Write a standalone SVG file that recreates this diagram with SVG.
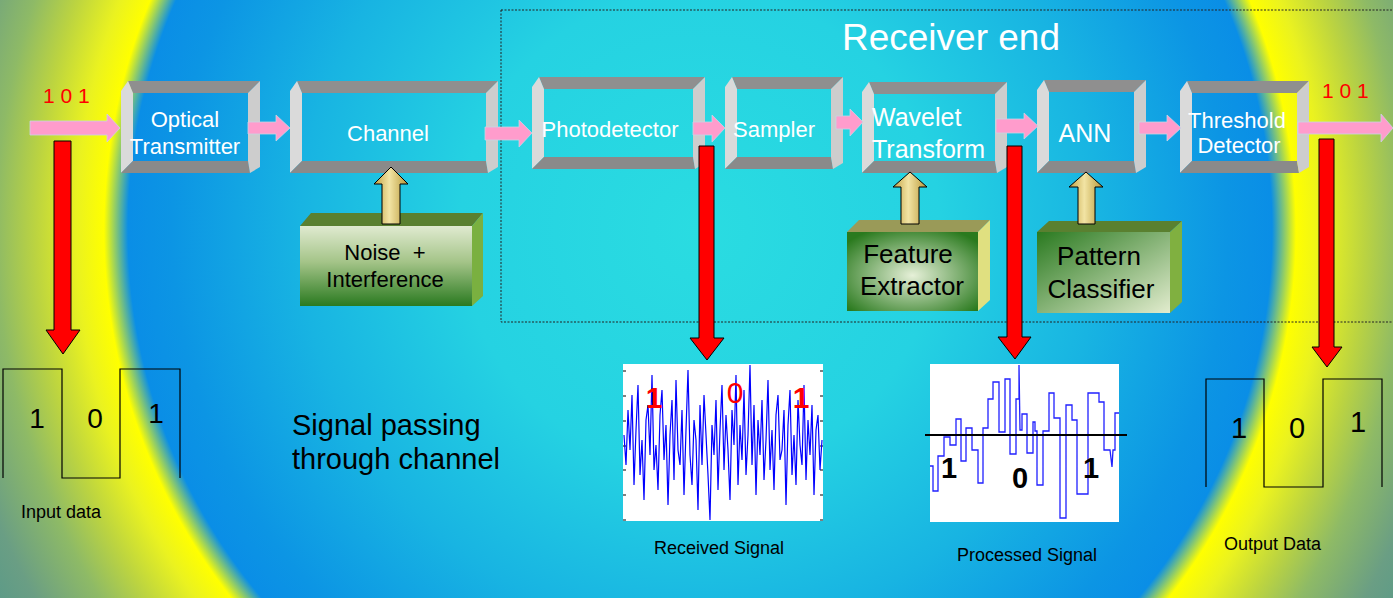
<svg xmlns="http://www.w3.org/2000/svg" width="1393" height="598" viewBox="0 0 1393 598">
<defs>
<radialGradient id="bg" gradientUnits="userSpaceOnUse" cx="700" cy="230" r="800">
<stop offset="0" stop-color="#2adce1"/>
<stop offset="0.3" stop-color="#25d2e2"/>
<stop offset="0.5" stop-color="#18b4e2"/>
<stop offset="0.66" stop-color="#0c95e4"/>
<stop offset="0.715" stop-color="#0a8ee6"/>
<stop offset="0.745" stop-color="#ffff00"/>
<stop offset="0.78" stop-color="#eaf220"/>
<stop offset="0.83" stop-color="#bcd440"/>
<stop offset="0.88" stop-color="#8eba66"/>
<stop offset="0.95" stop-color="#6a9e84"/>
<stop offset="1" stop-color="#5a9a88"/>
</radialGradient>
<linearGradient id="gold" x1="0" y1="0" x2="1" y2="0">
<stop offset="0" stop-color="#c0a040"/>
<stop offset="0.45" stop-color="#f2e4a4"/>
<stop offset="1" stop-color="#b89838"/>
</linearGradient>
<linearGradient id="gNoise" x1="0" y1="0" x2="0" y2="1">
<stop offset="0" stop-color="#e0ead0"/>
<stop offset="0.45" stop-color="#a4c488"/>
<stop offset="1" stop-color="#2a7a20"/>
</linearGradient>
<radialGradient id="gFeat" cx="0.5" cy="0.55" r="0.65">
<stop offset="0" stop-color="#e6f0d8"/>
<stop offset="1" stop-color="#2a7a1e"/>
</radialGradient>
<linearGradient id="gPat" x1="0" y1="0" x2="1" y2="1">
<stop offset="0" stop-color="#2a7a20"/>
<stop offset="1" stop-color="#e2ecce"/>
</linearGradient>
<clipPath id="clipR"><rect x="623" y="364" width="200" height="157"/></clipPath>
</defs>
<style>
.ft{fill:#8f8f8f}
.fb{fill:#8a8a8a}
.fl{fill:#dadada}
.fr{fill:#cdcdcd}
.wt{font-family:"Liberation Sans",Arial,sans-serif;fill:#ffffff}
.bt{font-family:"Liberation Sans",Arial,sans-serif;fill:#000000}
.rt{font-family:"Liberation Sans",Arial,sans-serif;fill:#ff0000}
.pink{fill:#ff9ccc;stroke:#c8d4e4;stroke-width:0.8}
.red{fill:#ff0000;stroke:#000000;stroke-width:1}
.gold{fill:url(#gold);stroke:#000000;stroke-width:1}
.wave{fill:none;stroke:#000000;stroke-width:1.2}
</style>
<rect x="0" y="0" width="1393" height="598" fill="url(#bg)"/>
<rect x="501" y="10" width="900" height="312" fill="none" stroke="#222" stroke-width="1" stroke-dasharray="2 1.5"/>
<text class="wt" x="951" y="50" font-size="37" text-anchor="middle">Receiver end</text>

<g id="optical-transmitter">
<polygon class="ft" points="128,81 260,81 248,93 133,93"/>
<polygon class="fl" points="121,91 128,81 133,93 133,161 121,173"/>
<polygon class="fb" points="121,173 133,161 248,161 250,173"/>
<polygon class="fr" points="260,81 260,167 250,173 248,161 248,93"/>
<text class="wt" font-size="22" text-anchor="middle"><tspan x="185" y="127">Optical</tspan><tspan x="185" y="154">Transmitter</tspan></text>
</g>
<g id="channel">
<polygon class="ft" points="297,81 498,81 486,93 302,93"/>
<polygon class="fl" points="290,91 297,81 302,93 302,161 290,173"/>
<polygon class="fb" points="290,173 302,161 486,161 488,173"/>
<polygon class="fr" points="498,81 498,167 488,173 486,161 486,93"/>
<text class="wt" x="388" y="141" font-size="22" text-anchor="middle">Channel</text>
</g>
<g id="photodetector">
<polygon class="ft" points="539,77 705,77 693,89 544,89"/>
<polygon class="fl" points="532,87 539,77 544,89 544,157 532,169"/>
<polygon class="fb" points="532,169 544,157 693,157 695,169"/>
<polygon class="fr" points="705,77 705,163 695,169 693,157 693,89"/>
<text class="wt" x="610" y="137" font-size="22" text-anchor="middle">Photodetector</text>
</g>
<g id="sampler">
<polygon class="ft" points="732,77 843,77 831,89 737,89"/>
<polygon class="fl" points="725,87 732,77 737,89 737,157 725,169"/>
<polygon class="fb" points="725,169 737,157 831,157 833,169"/>
<polygon class="fr" points="843,77 843,163 833,169 831,157 831,89"/>
<text class="wt" x="774" y="137" font-size="22" text-anchor="middle">Sampler</text>
</g>
<g id="wavelet-transform">
<polygon class="ft" points="869,82 1007,82 995,94 874,94"/>
<polygon class="fl" points="862,92 869,82 874,94 874,161 862,173"/>
<polygon class="fb" points="862,173 874,161 995,161 997,173"/>
<polygon class="fr" points="1007,82 1007,167 997,173 995,161 995,94"/>
<text class="wt" font-size="25"><tspan x="872" y="126">Wavelet</tspan><tspan x="872" y="158">Transform</tspan></text>
</g>
<g id="ann">
<polygon class="ft" points="1044,80 1146,80 1134,92 1049,92"/>
<polygon class="fl" points="1037,90 1044,80 1049,92 1049,161 1037,173"/>
<polygon class="fb" points="1037,173 1049,161 1134,161 1136,173"/>
<polygon class="fr" points="1146,80 1146,167 1136,173 1134,161 1134,92"/>
<text class="wt" x="1085" y="142" font-size="25" text-anchor="middle">ANN</text>
</g>
<g id="threshold-detector">
<polygon class="ft" points="1187,81 1309,81 1297,93 1192,93"/>
<polygon class="fl" points="1180,91 1187,81 1192,93 1192,161 1180,173"/>
<polygon class="fb" points="1180,173 1192,161 1297,161 1299,173"/>
<polygon class="fr" points="1309,81 1309,167 1299,173 1297,161 1297,93"/>
<text class="wt" font-size="22" text-anchor="middle"><tspan x="1237" y="128">Threshold</tspan><tspan x="1239" y="153">Detector</tspan></text>
</g>

<g id="noise-interference">
<polygon fill="#5a8030" points="300,226 311,213 483,213 472,226"/>
<polygon fill="#7ab040" points="472,226 483,213 483,296 472,306"/>
<rect x="300" y="226" width="172" height="80" fill="url(#gNoise)"/>
<text class="bt" font-size="22" text-anchor="middle"><tspan x="385" y="260">Noise&#160; +</tspan><tspan x="385" y="287">Interference</tspan></text>
</g>
<g id="feature-extractor">
<polygon fill="#9a9a58" points="847,232 859,220 990,220 978,232"/>
<polygon fill="#e0e080" points="978,232 990,220 990,300 978,311"/>
<rect x="847" y="232" width="131" height="79" fill="url(#gFeat)"/>
<text class="bt" font-size="26" text-anchor="middle"><tspan x="908" y="263">Feature</tspan><tspan x="912" y="295">Extractor</tspan></text>
</g>
<g id="pattern-classifier">
<polygon fill="#5a8030" points="1037,232 1049,221 1182,221 1170,232"/>
<polygon fill="#80b040" points="1170,232 1182,221 1182,302 1170,313"/>
<rect x="1037" y="232" width="133" height="81" fill="url(#gPat)"/>
<text class="bt" font-size="26" text-anchor="middle"><tspan x="1099" y="265">Pattern</tspan><tspan x="1101" y="298">Classifier</tspan></text>
</g>

<g id="input-data">
<text class="rt" x="43" y="103" font-size="21">1 0 1</text>
<polyline class="wave" points="3,478 3,369 62,369 62,478 120,478 120,369 180,369 180,478"/>
<text class="bt" font-size="28" text-anchor="middle"><tspan x="37" y="428">1</tspan><tspan x="95" y="428">0</tspan><tspan x="156" y="423">1</tspan></text>
<text class="bt" x="21" y="518" font-size="18">Input data</text>
</g>
<g id="output-data">
<text class="rt" x="1322" y="98" font-size="21">1 0 1</text>
<polyline class="wave" points="1206,487 1206,379 1264,379 1264,487 1323,487 1323,379 1382,379 1382,487"/>
<text class="bt" font-size="29" text-anchor="middle"><tspan x="1239" y="438">1</tspan><tspan x="1297" y="438">0</tspan><tspan x="1358" y="432">1</tspan></text>
<text class="bt" x="1224" y="550" font-size="18">Output Data</text>
</g>
<g id="channel-caption">
<text class="bt" font-size="29"><tspan x="292" y="435">Signal passing</tspan><tspan x="292" y="469">through channel</tspan></text>
</g>
<g id="received-signal">
<rect x="623" y="364" width="200" height="157" fill="#ffffff"/>
<g stroke="#000" stroke-width="1">
<path d="M623,371h3M623,396h3M623,421h3M623,446h3M623,470h3M623,495h3M623,520h3M820,371h3M820,396h3M820,421h3M820,446h3M820,470h3M820,495h3M820,520h3"/>
</g>
<polyline clip-path="url(#clipR)" fill="none" stroke="#0000ff" stroke-width="1.2" points="624,435 626,465 628,410 630,450 632,395 634,485 636,430 638,385 640,475 642,440 644,500 646,420 648,405 650,455 652,375 654,470 656,445 658,490 660,415 662,390 664,460 666,425 668,505 670,435 672,400 674,480 676,380 678,450 680,465 682,410 684,495 686,430 688,370 690,455 692,485 694,420 696,440 698,510 700,405 702,465 704,395 706,435 708,475 710,520 712,425 714,455 716,400 718,490 720,430 722,385 724,470 726,415 728,450 730,500 732,410 734,445 736,375 738,485 740,425 742,460 744,390 746,475 748,435 750,365 752,465 754,405 756,495 758,420 760,455 762,400 764,480 766,440 768,380 770,470 772,430 774,490 776,415 778,395 780,460 782,450 784,410 786,505 788,425 790,390 792,475 794,435 796,485 798,400 800,445 802,465 804,385 806,480 808,420 810,455 812,405 814,495 816,430 818,415 820,470 822,440"/>
<text class="rt" font-size="30" font-weight="bold" x="654" y="408" text-anchor="middle">1</text>
<text class="rt" font-size="30" x="735" y="403" text-anchor="middle">0</text>
<text class="rt" font-size="30" font-weight="bold" x="801" y="408" text-anchor="middle">1</text>
<text class="bt" x="719" y="554" font-size="18" text-anchor="middle">Received Signal</text>
</g>
<g id="processed-signal">
<rect x="930" y="364" width="189" height="158" fill="#ffffff"/>
<polyline fill="none" stroke="#2020ff" stroke-width="1.3" points="930,466 933,466 933,491 938,491 938,456 944,456 944,437 950,437 950,445 956,445 956,419 961,419 961,461 966,461 966,428 972,428 972,450 978,450 978,483 983,483 983,428 988,428 988,399 993,399 993,382 999,382 999,432 1005,432 1005,379 1010,379 1010,454 1016,454 1016,399 1019,399 1019,365 1020,430 1022,430 1022,414 1027,414 1027,453 1033,453 1033,422 1035,422 1035,431 1037,431 1037,485 1043,485 1043,431 1049,431 1049,393 1054,393 1054,418 1060,418 1060,518 1066,518 1066,405 1072,405 1072,420 1077,420 1077,494 1088,494 1088,393 1099,393 1099,402 1104,402 1104,450 1110,450 1112,467 1113,450 1115,450 1115,413 1119,413"/>
<line x1="925" y1="435" x2="1127" y2="435" stroke="#000" stroke-width="2"/>
<text class="bt" font-size="29" font-weight="bold" text-anchor="middle"><tspan x="949" y="478">1</tspan><tspan x="1020" y="488">0</tspan><tspan x="1091" y="478">1</tspan></text>
<text class="bt" x="1027" y="561" font-size="18" text-anchor="middle">Processed Signal</text>
</g>

<g id="connectors">
<polygon class="pink" points="30,121 107,121 107,114 120,128 107,142 107,135 30,135"/>
<polygon class="pink" points="248,122 276,122 276,115 290,128 276,141 276,134 248,134"/>
<polygon class="pink" points="485,127 519,127 519,120 532,133 519,147 519,140 485,140"/>
<polygon class="pink" points="693,122 712,122 712,115 725,128 712,142 712,135 693,135"/>
<polygon class="pink" points="836,116 850,116 850,109 863,122 850,136 850,129 836,129"/>
<polygon class="pink" points="996,119 1024,119 1024,113 1038,126 1024,139 1024,133 996,133"/>
<polygon class="pink" points="1139,122 1167,122 1167,115 1181,128 1167,141 1167,134 1139,134"/>
<polygon class="pink" points="1298,122 1381,122 1381,114 1393,128 1381,142 1381,134 1298,134"/>
<polygon class="red" points="54,141 71,141 71,330 80,330 63,354 46,330 54,330"/>
<polygon class="red" points="699,146 714,146 714,338 724,338 707,360 690,338 699,338"/>
<polygon class="red" points="1007,146 1022,146 1022,337 1031,337 1015,359 998,337 1007,337"/>
<polygon class="red" points="1319,139 1334,139 1334,347 1342,347 1327,367 1312,347 1319,347"/>
<polygon class="gold" points="391,167 408,184 400,184 400,224 382,224 382,184 374,184"/>
<polygon class="gold" points="910,172 927,187 919,187 919,224 901,224 901,187 893,187"/>
<polygon class="gold" points="1086,172 1103,187 1095,187 1095,224 1078,224 1078,187 1069,187"/>
</g>
</svg>
